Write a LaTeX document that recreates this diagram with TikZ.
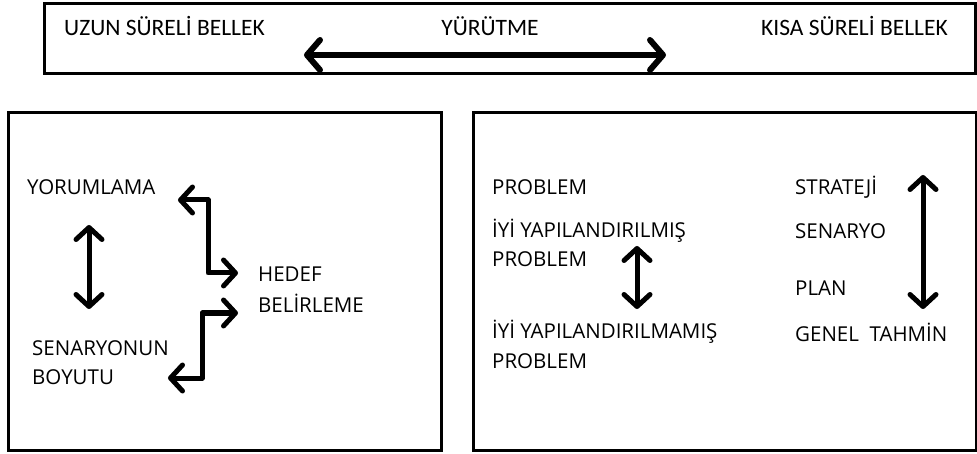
\documentclass[tikz,border=0pt]{standalone}
\usepackage{fontspec}
\setmainfont{Open Sans}
\newfontfamily\carlitofont{Carlito}
\usetikzlibrary{arrows.meta}
\begin{document}
\begin{tikzpicture}[x=1pt,y=-1pt,
  frame/.style={draw=black,line width=3pt},
  lbl/.style={anchor=west,inner sep=0pt,font=\fontsize{20.5}{22}\selectfont},
  toplbl/.style={inner sep=0pt,font=\carlitofont\fontsize{23.5}{25}\selectfont},
  twoway/.style={line width=5pt,line cap=round,line join=round,
    {Straight Barb[round,length=12pt,width=26pt]}-{Straight Barb[round,length=12pt,width=26pt]}},
  bigway/.style={line width=6pt,line cap=round,line join=round,
    {Straight Barb[round,length=13pt,width=30pt]}-{Straight Barb[round,length=13pt,width=30pt]}}]
\useasboundingbox (0,0) rectangle (977,454);

% top band: memory and execution
\draw[frame] (44,4) rectangle (975,74);
\node[toplbl,anchor=west] (uzun) at (64,26) {UZUN SÜRELİ BELLEK};
\node[toplbl] (yurutme) at (490,26) {YÜRÜTME};
\node[toplbl,anchor=east] (kisa) at (948,26) {KISA SÜRELİ BELLEK};
\coordinate (ea) at (304,55);
\coordinate (eb) at (666,55);
\draw[bigway] (ea) -- (eb);

% left panel
\draw[frame] (8,113) rectangle (441,450);
\node[lbl] (yorum) at (27,187) {YORUMLAMA};
\node[lbl] (hedef1) at (258,274) {HEDEF};
\node[lbl] (hedef2) at (258,303) {BELİRLEME};
\node[lbl] (sen1) at (32,348) {SENARYONUN};
\node[lbl] (sen2) at (32,377) {BOYUTU};
\coordinate (ya) at (89,225);
\coordinate (yb) at (89,309);
\draw[twoway] (ya) -- (yb);
\coordinate (ta) at (178,200);
\coordinate (tb) at (238,273);
\draw[twoway] (ta) -- ++(30,0) |- (tb);
\coordinate (ba) at (168,378);
\coordinate (bb) at (238,313);
\draw[twoway] (ba) -- ++(34,0) |- (bb);

% right panel
\draw[frame] (473,113) rectangle (976,450);
\node[lbl] (prob) at (492,187) {PROBLEM};
\node[lbl] (iyi1) at (492,231) {İYİ YAPILANDIRILMIŞ};
\node[lbl] (iyi1b) at (492,259) {PROBLEM};
\node[lbl] (iyi2) at (492,332) {İYİ YAPILANDIRILMAMIŞ};
\node[lbl] (iyi2b) at (492,361) {PROBLEM};
\node[lbl] (str) at (795,187) {STRATEJİ};
\node[lbl] (sny) at (795,231) {SENARYO};
\node[lbl] (plan) at (795,288) {PLAN};
\node[lbl] (gen) at (795,332) {GENEL\ \ TAHMİN};
\coordinate (pa) at (637,246);
\coordinate (pb) at (637,309);
\draw[twoway] (pa) -- (pb);
\coordinate (sa) at (923,175);
\coordinate (sb) at (923,309);
\draw[twoway] (sa) -- (sb);
\end{tikzpicture}
\end{document}
